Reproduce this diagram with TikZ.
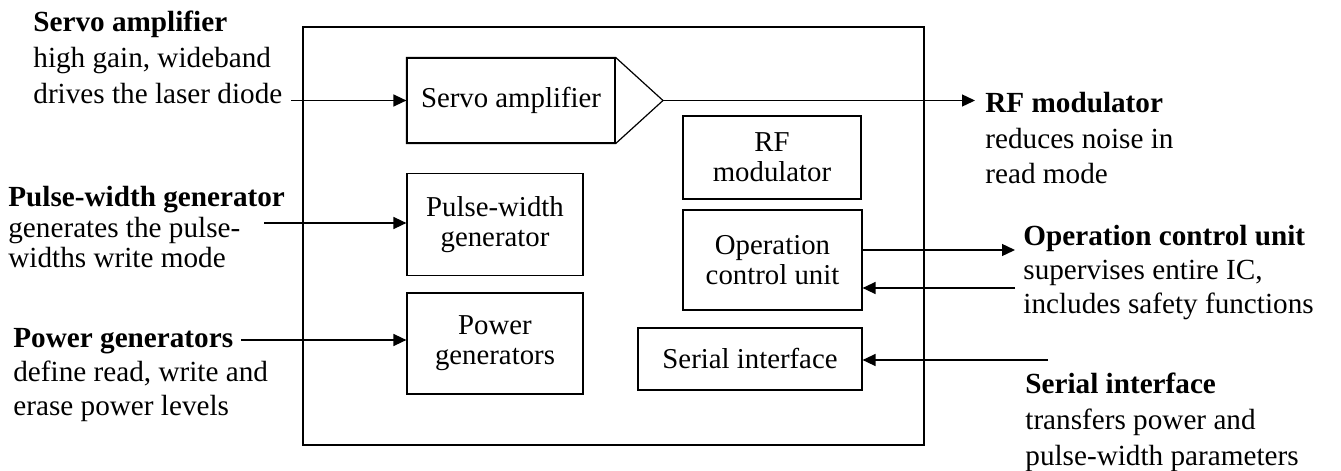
\documentclass[tikz,border=0pt]{standalone}
\usepackage{fontspec}
\setmainfont{Liberation Serif}
\usetikzlibrary{arrows.meta}

\begin{document}
\begin{tikzpicture}[
    x=0.5pt, y=-0.5pt,
    block/.style={draw, rectangle, line width=0.6pt, align=center,
                  inner sep=0pt, font=\fontsize{14.4}{15}\selectfont},
    frame/.style={draw, rectangle, line width=0.6pt, inner sep=0pt},
    desc/.style={anchor=north west, inner sep=0pt, align=left,
                 font=\fontsize{14.6}{17.8}\selectfont},
    sig/.style={-{Triangle[length=6.5pt, width=6pt]}, line width=0.7pt}
]
\useasboundingbox (0,0) rectangle (1341,471);

% Gehaeuse des IC
\node[frame, minimum width=310.5pt, minimum height=209pt] (ic) at (613.5,236) {};

% Bloecke
\node[block, minimum width=104pt, minimum height=42.5pt] (servo) at (511,100.5) {Servo amplifier};
\coordinate (servotip) at (663,100.5);
\draw[line width=0.6pt] (servo.north west) -- (servo.north east) -- (servotip)
    -- (servo.south east) -- (servo.south west) -- cycle;
\node[block, minimum width=89pt, minimum height=41.5pt] (rf)     at (772,157.5) {RF\\modulator};
\node[block, minimum width=89.5pt, minimum height=50pt] (ocu)    at (772.5,260) {Operation\\control unit};
\node[block, minimum width=112pt, minimum height=31pt]  (serial) at (750,359)   {Serial interface};
\node[block, minimum width=88pt, minimum height=51pt]   (pulse)  at (495,224.5) {Pulse-width\\generator};
\node[block, minimum width=88pt, minimum height=50.5pt] (power)  at (495,343.5) {Power\\generators};

% Beschreibungen links
\node[desc] (servoTxt) at (33,11)
    {\textbf{Servo amplifier}\\high gain, wideband\\drives the laser diode};
\node[desc, font=\fontsize{14.6}{15.2}\selectfont] (pulseTxt) at (8,186)
    {\textbf{Pulse-width generator}\\generates the pulse-\\widths write mode};
\node[desc, font=\fontsize{14.6}{17}\selectfont] (powerTxt) at (13,328)
    {\textbf{Power generators}\\define read, write and\\erase power levels};

% Beschreibungen rechts
\node[desc] (rfTxt) at (985,92)
    {\textbf{RF modulator}\\reduces noise in\\read mode};
\node[desc, font=\fontsize{14.6}{17}\selectfont] (ocuTxt) at (1023,225)
    {\textbf{Operation control unit}\\supervises entire IC,\\includes safety functions};
\node[desc] (serialTxt) at (1025,373)
    {\textbf{Serial interface}\\transfers power and\\pulse-width parameters};

% freie Enden
\coordinate (servoIn)  at (291,100.5);
\coordinate (rfOut)    at (975,100.5);
\coordinate (pulseIn)  at (264,223);
\coordinate (powerIn)  at (241,340);
\coordinate (ocuOut)   at (1015,250);
\coordinate (ocuIn)    at (1015,288);
\coordinate (serialIn) at (1048,360);

% Signale
\draw[sig] (servoIn) -- (servo.west);
\draw[sig] (servotip) -- (rfOut);
\draw[sig] (pulseIn) -- (pulse.west |- pulseIn);
\draw[sig] (powerIn) -- (power.west |- powerIn);
\draw[sig] (ocu.east |- ocuOut) -- (ocuOut);
\draw[sig] (ocuIn) -- (ocu.east |- ocuIn);
\draw[sig] (serialIn) -- (serial.east |- serialIn);

\end{tikzpicture}
\end{document}
